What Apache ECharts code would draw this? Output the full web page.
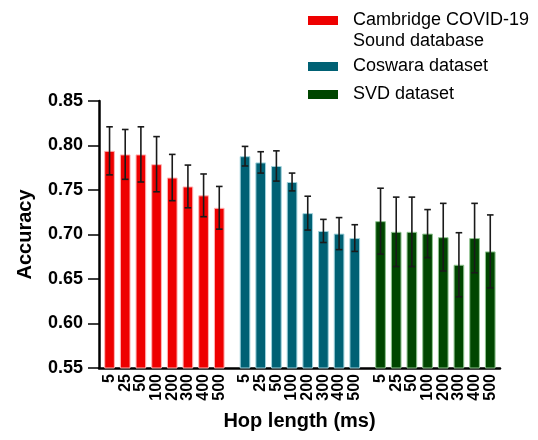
<!DOCTYPE html>
<html>
<head>
    <meta charset="utf-8"/>
    <script src="https://cdn.jsdelivr.net/npm/echarts@6/dist/echarts.min.js"></script>
    <style>
        body { margin: 0; background: #fff; }
    </style>
</head>
<body>
<div id="main" style="width: 538px;height:440px;"></div>
<script type="text/javascript">
    var myChart = echarts.init(document.getElementById('main'));

    // hop length labels (ms)
    var hopLengths = ['5', '25', '50', '100', '200', '300', '400', '500'];
    var yTicks = [0.55, 0.60, 0.65, 0.70, 0.75, 0.80, 0.85];

    // mean accuracy + error (sd) for each dataset
    var cambridgeAcc = [0.794, 0.790, 0.790, 0.779, 0.764, 0.754, 0.744, 0.730];
    var cambridgeErr = [0.027, 0.028, 0.031, 0.031, 0.026, 0.024, 0.024, 0.024];
    var coswaraAcc = [0.788, 0.781, 0.777, 0.759, 0.724, 0.704, 0.701, 0.696];
    var coswaraErr = [0.011, 0.012, 0.017, 0.010, 0.019, 0.013, 0.018, 0.015];
    var svdAcc = [0.715, 0.703, 0.703, 0.701, 0.697, 0.666, 0.696, 0.681];
    var svdErr = [0.037, 0.039, 0.039, 0.027, 0.038, 0.036, 0.039, 0.041];

    var names = ['Cambridge COVID-19 Sound database', 'Coswara dataset', 'SVD dataset'];
    var colors = ['#ee0000', '#006174', '#004600'];
    var edges = ['#ffb4b4', '#9fd2dc', '#8fc58f'];

    var font = 'Arial, "Liberation Sans", sans-serif';

    // base grid: y axis + x axis line; three group grids on top
    var grids = [
        {left: 99, right: 38, top: 101, bottom: 72},
        {left: 101.7, right: 310.9, top: 101, bottom: 72},
        {left: 237.2, right: 175.4, top: 101, bottom: 72},
        {left: 372.7, right: 39.9, top: 101, bottom: 72}
    ];

    var xAxes = [{
        gridIndex: 0,
        type: 'value',
        min: 0, max: 1,
        axisLine: {show: true, lineStyle: {color: '#000', width: 2.5}},
        axisTick: {show: false},
        axisLabel: {show: false},
        splitLine: {show: false},
        name: 'Hop length (ms)',
        nameLocation: 'middle',
        nameGap: 43,
        nameTextStyle: {fontFamily: font, fontWeight: 'bold', fontSize: 20, color: '#000'}
    }];
    var yAxes = [{
        gridIndex: 0,
        type: 'value',
        min: yTicks[0], max: yTicks[yTicks.length - 1], interval: 0.05,
        axisLine: {show: true, lineStyle: {color: '#000', width: 2.5}},
        axisTick: {show: true, inside: false, length: 11, lineStyle: {color: '#000', width: 1.5}},
        axisLabel: {
            margin: 16,
            fontFamily: font, fontWeight: 'bold', fontSize: 18, color: '#000',
            formatter: function (v) { return v.toFixed(2); }
        },
        splitLine: {show: false},
        name: 'Accuracy',
        nameLocation: 'middle',
        nameGap: 64,
        nameTextStyle: {fontFamily: font, fontWeight: 'bold', fontSize: 20, color: '#000'}
    }];
    for (var g = 1; g <= 3; g++) {
        xAxes.push({
            gridIndex: g,
            type: 'category',
            data: hopLengths,
            axisLine: {show: false},
            axisTick: {show: false},
            axisLabel: {
                rotate: 90, margin: 6, interval: 0,
                fontFamily: font, fontWeight: 'bold', fontSize: 16, color: '#000'
            }
        });
        yAxes.push({
            gridIndex: g,
            type: 'value',
            min: yTicks[0], max: yTicks[yTicks.length - 1], interval: 0.05,
            show: false
        });
    }

    function errorSeries(idx, acc, err) {
        return {
            type: 'custom',
            xAxisIndex: idx, yAxisIndex: idx,
            z: 5,
            data: acc.map(function (v, i) { return [i, v - err[i], v + err[i]]; }),
            renderItem: function (params, api) {
                var lo = api.coord([api.value(0), api.value(1)]);
                var hi = api.coord([api.value(0), api.value(2)]);
                var w = 3.3;
                var st = {stroke: '#1a1a1a', lineWidth: 1.6};
                return {
                    type: 'group',
                    children: [
                        {type: 'line', shape: {x1: hi[0], y1: hi[1], x2: lo[0], y2: lo[1]}, style: st},
                        {type: 'line', shape: {x1: hi[0] - w, y1: hi[1], x2: hi[0] + w, y2: hi[1]}, style: st},
                        {type: 'line', shape: {x1: lo[0] - w, y1: lo[1], x2: lo[0] + w, y2: lo[1]}, style: st}
                    ]
                };
            }
        };
    }

    function barSeries(idx, acc) {
        return {
            name: names[idx - 1],
            type: 'bar',
            xAxisIndex: idx, yAxisIndex: idx,
            data: acc,
            barWidth: '68%',
            itemStyle: {color: colors[idx - 1], borderColor: edges[idx - 1], borderWidth: 1}
        };
    }

    function legendAt(name, top, label) {
        return {
            data: [name],
            left: 308, top: top,
            padding: 0,
            itemWidth: 30, itemHeight: 9,
            icon: 'rect',
            itemStyle: {borderWidth: 0},
            selectedMode: false,
            formatter: function () { return label; },
            textStyle: {fontFamily: font, fontSize: 18, color: '#000', lineHeight: 20, padding: [0, 0, 0, 10]}
        };
    }

    option = {
        animation: false,
        grid: grids,
        xAxis: xAxes,
        yAxis: yAxes,
        legend: [
            legendAt(names[0], 10.5, 'Cambridge COVID-19'),
            legendAt(names[1], 56.5, names[1]),
            legendAt(names[2], 84.5, names[2])
        ],
        graphic: [{
            type: 'text',
            left: 353, top: 32,
            style: {text: 'Sound database', font: '18px ' + font, fill: '#000'}
        }],
        series: [
            barSeries(1, cambridgeAcc),
            barSeries(2, coswaraAcc),
            barSeries(3, svdAcc),
            errorSeries(1, cambridgeAcc, cambridgeErr),
            errorSeries(2, coswaraAcc, coswaraErr),
            errorSeries(3, svdAcc, svdErr)
        ]
    };

    myChart.setOption(option);
</script>
</body>
</html>
